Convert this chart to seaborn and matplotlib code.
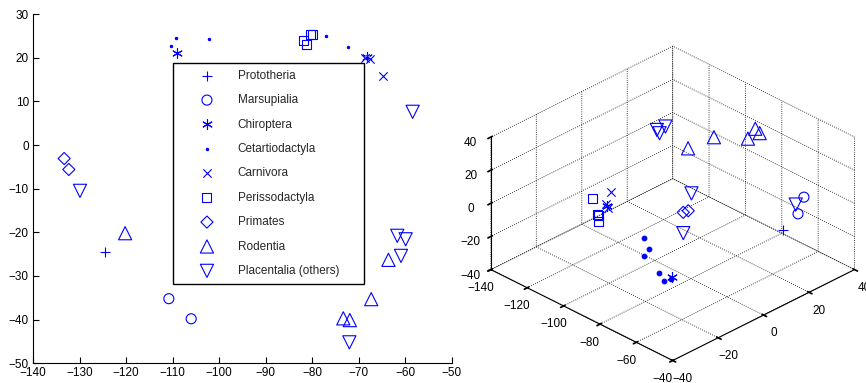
import numpy as np
import pandas as pd
import matplotlib
matplotlib.use("Agg")
import matplotlib.pyplot as plt
import seaborn as sns

# ---------------- data ----------------
groups = ["Prototheria", "Marsupialia", "Chiroptera", "Cetartiodactyla", "Carnivora",
          "Perissodactyla", "Primates", "Rodentia", "Placentalia (others)"]

# 2-D embedding (left panel)
grp_2d = (["Prototheria"] + ["Marsupialia"] * 2 + ["Chiroptera"] * 2 + ["Cetartiodactyla"] * 6
          + ["Carnivora"] * 3 + ["Perissodactyla"] * 4 + ["Primates"] * 2 + ["Rodentia"] * 5
          + ["Placentalia (others)"] * 6)
x_2d = [-124.5,
        -110.8, -106.0,
        -109.1, -68.1,
        -109.3, -110.4, -102.1, -77.0, -72.2, -68.2,
        -64.8, -68.6, -67.6,
        -81.9, -81.3, -80.3, -80.0,
        -133.3, -132.3,
        -120.2, -63.6, -67.3, -73.3, -71.9,
        -129.9, -58.4, -61.7, -59.9, -60.9, -72.0]
y_2d = [-24.5,
        -35.2, -39.8,
        21.1, 20.1,
        24.4, 22.7, 24.2, 25.0, 22.4, 20.0,
        15.9, 20.0, 19.8,
        23.9, 23.1, 25.2, 25.4,
        -3.1, -5.6,
        -20.2, -26.3, -35.3, -39.7, -40.1,
        -10.5, 7.6, -20.8, -21.6, -25.4, -45.2]

# 3-D embedding (right panel)
grp_3d = grp_2d
x_3d = [-54.2,
        -48.2, -45.2,
        -77.3, -107.5,
        -92.3, -89.5, -88.9, -82.8, -78.8, -77.9,
        -108.9, -107.9, -106.9,
        -114.6, -108.4, -109.3, -108.0,
        -86.7, -86.2,
        -97.8, -87.7, -73.0, -73.7, -71.9,
        -102.8, -102.1, -99.6, -90.3, -79.8, -48.2]
y_3d = [20.0,
        24.3, 19.3,
        -10.6, -14.9,
        -10.7, -10.9, -13.4, -12.0, -12.7, -10.4,
        -12.2, -14.9, -15.0,
        -15.5, -17.8, -17.1, -18.5,
        2.0, 3.8,
        13.0, 16.3, 19.5, 23.3, 23.8,
        3.3, 3.9, 4.5, 8.5, -3.5, 20.7]
z_3d = [-10,
        10, 5,
        -30, -1,
        -15, -20, -22, -30, -32, -32,
        5, 0, -2,
        0, -5, -10, -4,
        -5, -5,
        20, 30, 35, 38, 36,
        35, 33, 38, 0, -10, 8]

x_ticks_2d = [-140, -130, -120, -110, -100, -90, -80, -70, -60, -50]
y_ticks_2d = [-50, -40, -30, -20, -10, 0, 10, 20, 30]
x_ticks_3d = [-140, -120, -100, -80, -60, -40]
y_ticks_3d = [-40, -20, 0, 20, 40]
z_ticks_3d = [-40, -20, 0, 20, 40]

# ---------------- style ----------------
sns.set_theme(style="ticks")
plt.rcParams["font.family"] = ["Liberation Sans", "DejaVu Sans"]
plt.rcParams["axes.unicode_minus"] = True
plt.rcParams["xtick.direction"] = "in"
plt.rcParams["ytick.direction"] = "in"
plt.rcParams["grid.linestyle"] = ":"
plt.rcParams["grid.color"] = "black"
plt.rcParams["grid.linewidth"] = 0.6

BLUE = (0, 0, 1)
FS = 8.5
marker_map = {
    "Prototheria": ("+", 60, True),
    "Marsupialia": ("o", 52, False),
    "Chiroptera": ((6, 2, 0), 50, True),
    "Cetartiodactyla": (".", 45, True),
    "Carnivora": ("x", 36, True),
    "Perissodactyla": ("s", 42, False),
    "Primates": ("D", 38, False),
    "Rodentia": ("^", 90, False),
    "Placentalia (others)": ("v", 90, False),
}

df2 = pd.DataFrame({"x": x_2d, "y": y_2d, "group": grp_2d})
df3 = pd.DataFrame({"x": x_3d, "y": y_3d, "z": z_3d, "group": grp_3d})

fig = plt.figure(figsize=(8.66, 3.83), dpi=100)

# ---------------- right panel (3-D) ----------------
ax3 = fig.add_axes([0.5208, -0.0444, 0.50, 1.0], projection="3d")
ax3.set_proj_type("ortho")
ax3.set_box_aspect((4, 4, 2.38))
for g in groups:
    m, s, lineart = marker_map[g]
    sub = df3[df3["group"] == g]
    if lineart:
        ax3.scatter(sub["x"], sub["y"], sub["z"], marker=m, s=s, color=BLUE,
                    linewidth=0.8, depthshade=False)
    else:
        ax3.scatter(sub["x"], sub["y"], sub["z"], marker=m, s=s, facecolor="none",
                    edgecolor=BLUE, linewidth=0.8, depthshade=False)

ax3.set_xlim(-140, -40)
ax3.set_ylim(-40, 40)
ax3.set_zlim(-40, 40)
ax3.set_xticks(x_ticks_3d)
ax3.set_yticks(y_ticks_3d)
ax3.set_zticks(z_ticks_3d)
ax3.view_init(elev=30, azim=-45)
ax3.tick_params(labelsize=FS, colors="black", pad=0)
for axis in (ax3.xaxis, ax3.yaxis, ax3.zaxis):
    axis.set_pane_color((1, 1, 1, 0))
    axis.pane.set_edgecolor((1, 1, 1, 0))
    axis.line.set_color("black")
    axis.line.set_linewidth(0.8)
    axis._axinfo["grid"].update(color="black", linestyle=":", linewidth=0.6)
ax3.zaxis.set_ticks_position("lower")
ax3.patch.set_alpha(0)

# ---------------- left panel ----------------
ax = fig.add_axes([0.0381, 0.0514, 0.4835, 0.912])
for g in groups:
    m, s, lineart = marker_map[g]
    sub = df2[df2["group"] == g]
    if lineart:
        sns.scatterplot(data=sub, x="x", y="y", ax=ax, marker=m, s=s, color=BLUE,
                        linewidth=0.8, label=g, legend=False)
    else:
        sns.scatterplot(data=sub, x="x", y="y", ax=ax, marker=m, s=s, facecolor="none",
                        edgecolor=BLUE, linewidth=0.8, label=g, legend=False)

ax.set_xlim(-140, -50)
ax.set_ylim(-50, 30)
ax.set_xticks(x_ticks_2d)
ax.set_yticks(y_ticks_2d)
ax.set_xlabel("")
ax.set_ylabel("")
ax.patch.set_alpha(0)
ax.tick_params(labelsize=FS, length=4, width=0.8, colors="black", pad=3)
for sp in ["top", "right"]:
    ax.spines[sp].set_visible(False)
for sp in ["left", "bottom"]:
    ax.spines[sp].set_color("black")
    ax.spines[sp].set_linewidth(0.8)

handles, labels = ax.get_legend_handles_labels()
leg = ax.legend(handles, labels, loc="upper left", bbox_to_anchor=(0.3337, 0.8606, 0.4568, 0.0),
                mode="expand", frameon=True, fancybox=False, edgecolor="black",
                fontsize=FS, labelspacing=1.05, handletextpad=0.3, borderpad=0.6,
                borderaxespad=0.0, handlelength=4.6, scatterpoints=1)
leg.get_frame().set_linewidth(1.0)
leg.get_frame().set_facecolor("white")
leg.get_frame().set_alpha(1.0)

fig.savefig("out.png", dpi=100, facecolor="white")
